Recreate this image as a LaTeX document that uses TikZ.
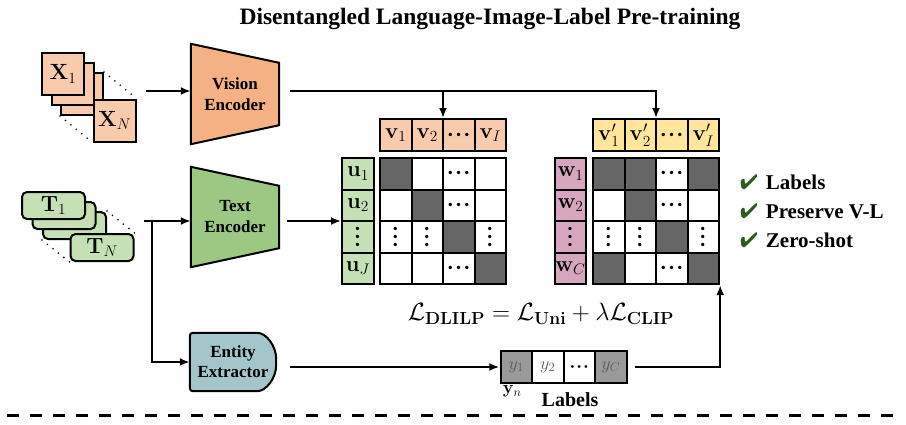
\RequirePackage{fix-cm}
\documentclass[tikz,border=0pt]{standalone}
\usepackage[no-math]{fontspec}
\setmainfont{Liberation Serif}
\usepackage{amsmath,amssymb,bm}
\usepackage{pifont}
\usepackage{tikz}
\usetikzlibrary{arrows.meta, positioning, calc, matrix, backgrounds}

\definecolor{visfill}{HTML}{F4B183}
\definecolor{vislight}{HTML}{F8CBAD}
\definecolor{txtfill}{HTML}{9DC883}
\definecolor{txtlight}{HTML}{C5E0B4}
\definecolor{vprime}{HTML}{FFE699}
\definecolor{wfill}{HTML}{D5A6BD}
\definecolor{entfill}{HTML}{A4C6CB}
\definecolor{darkcell}{HTML}{666666}
\definecolor{labgray}{HTML}{9A9A9A}
\definecolor{checkgreen}{HTML}{2E5A1C}

\newcommand{\hdts}{\boldsymbol{\mathord{\cdot}\mkern1mu\mathord{\cdot}\mkern1mu\mathord{\cdot}}}
\newcommand{\vdts}{\rotatebox{90}{$\hdts$}}

\tikzset{
  arr/.style={-{Latex[length=10pt,width=8pt]}, line width=2pt},
  wire/.style={line width=2pt},
  cell/.style={draw, line width=2pt, minimum size=31.5pt, inner sep=0pt, anchor=center, font=\fontsize{22}{24}\selectfont},
  dcell/.style={fill=darkcell},
  grid/.style={matrix of math nodes, nodes={cell}, nodes in empty cells, column sep=-2pt, row sep=-2pt, inner sep=0pt},
  imgsq/.style={draw, line width=2pt, fill=vislight, minimum size=42pt, inner sep=0pt, font=\fontsize{22}{24}\selectfont},
  txtbox/.style={draw, line width=2pt, fill=txtlight, rounded corners=5pt, minimum width=63pt, minimum height=27pt, inner sep=0pt, font=\fontsize{22}{24}\selectfont},
  stackdots/.style={line width=1.8pt, line cap=round, dash pattern=on 0pt off 7pt},
  blocktext/.style={align=center, inner sep=0pt, font=\bfseries\fontsize{17}{21}\selectfont},
  chkitem/.style={anchor=base west, inner sep=0pt, font=\bfseries\fontsize{21}{24}\selectfont},
}

\begin{document}
\begin{tikzpicture}[x=1pt, y=-1pt]
  \useasboundingbox (0,0) rectangle (906,424);

  \node[font=\bfseries\fontsize{23.5}{26}\selectfont] (title) at (490,19) {Disentangled Language-Image-Label Pre-training};

  % image stack
  \foreach \i/\px/\py in {3/82/94, 2/72.5/84}
    \node[imgsq] (x\i) at (\px,\py) {};
  \node[imgsq] (x1) at (63,74) {$\mathbf{X}_1$};
  \node[imgsq] (xN) at (114.5,120.5) {$\mathbf{X}_N$};
  \draw[stackdots] (x3.north east) -- (xN.north east);
  \draw[stackdots] (x3.south west) -- (xN.south west);

  % text stack
  \foreach \i/\px/\py in {3/74.5/225.5, 2/64/215.5}
    \node[txtbox] (t\i) at (\px,\py) {};
  \node[txtbox] (t1) at (53.5,205.5) {$\mathbf{T}_1$};
  \node[txtbox] (tN) at (102,247.5) {$\mathbf{T}_N$};
  \draw[stackdots] (t3.north east) -- (tN.north east);
  \draw[stackdots] (t3.south west) -- (tN.south west);

  % encoders and extractor
  \node[blocktext, minimum width=88pt, minimum height=100pt] (venc) at (235,94) {Vision\\Encoder};
  \node[blocktext, minimum width=88pt, minimum height=100pt] (tenc) at (235,217) {Text\\Encoder};
  \node[blocktext, minimum width=86pt, minimum height=58pt, font=\bfseries\fontsize{17}{20}\selectfont] (ent) at (233,362) {Entity\\Extractor};
  \begin{scope}[on background layer]
    \foreach \e/\col in {venc/visfill, tenc/txtfill}
      \draw[wire, fill=\col] (\e.north west) -- ($(\e.north east)+(0,19)$) -- ($(\e.south east)+(0,-19)$) -- (\e.south west) -- cycle;
    \draw[wire, fill=entfill, rounded corners=3pt] (ent.south west) -- (ent.north west) -- ($(ent.north east)+(-22,0)$)
      .. controls ($(ent.north east)+(-10,0)$) and ($(ent.east)+(0,-16)$) .. (ent.east)
      .. controls ($(ent.east)+(0,16)$) and ($(ent.south east)+(-10,0)$) .. ($(ent.south east)+(-22,0)$) -- cycle;
  \end{scope}

  % embeddings and similarity grids
  \matrix[grid, nodes={fill=vislight}] (vrow) at (443,135) {\mathbf{v}_1 & \mathbf{v}_2 & \hdts & \mathbf{v}_I \\};
  \matrix[grid, nodes={fill=txtlight}] (ucol) at (358,221) {\mathbf{u}_1 \\ \mathbf{u}_2 \\ \vdts \\ \mathbf{u}_J \\};
  \matrix[grid] (sim1) at (443,221) {
    |[dcell]| & & \hdts & \\
    & |[dcell]| & \hdts & \\
    \vdts & \vdts & |[dcell]| & \vdts \\
    & & \hdts & |[dcell]| \\
  };
  \matrix[grid, nodes={fill=vprime}] (vprow) at (656,135) {\mathbf{v}'_1 & \mathbf{v}'_2 & \hdts & \mathbf{v}'_I \\};
  \matrix[grid, nodes={fill=wfill}] (wcol) at (570.5,221) {\mathbf{w}_1 \\ \mathbf{w}_2 \\ \vdts \\ \mathbf{w}_C \\};
  \matrix[grid] (sim2) at (656,221) {
    |[dcell]| & |[dcell]| & \hdts & |[dcell]| \\
    & |[dcell]| & \hdts & \\
    \vdts & \vdts & |[dcell]| & \vdts \\
    |[dcell]| & & \hdts & |[dcell]| \\
  };
  \matrix[grid, nodes={font=\fontsize{18}{20}\selectfont, text=black!65}] (labrow) at (563.5,367)
    {|[fill=labgray]| y_1 & y_2 & |[text=black]| \hdts & |[fill=labgray]| y_C \\};
  \node[below=2pt of labrow-1-1, xshift=-4pt, inner sep=0pt, font=\fontsize{18}{20}\selectfont] (yn) {$\mathbf{y}_n$};
  \node[inner sep=0pt, font=\bfseries\fontsize{20}{22}\selectfont] (lablbl) at (570,400) {Labels};

  \node[font=\fontsize{25}{27}\selectfont] (loss) at (541,314)
    {$\mathcal{L}_{\mathbf{DLILP}} = \mathcal{L}_{\mathbf{Uni}} + \lambda\mathcal{L}_{\mathbf{CLIP}}$};

  % connectors
  \coordinate (ximg) at (146,91);
  \coordinate (vout) at (290,91);
  \coordinate (txt) at (144,221);
  \coordinate (split) at (152,221);
  \coordinate (tout) at (287,221);
  \draw[arr] (ximg) -- (ximg -| venc.west);
  \draw[arr] (vout) -| (vrow.north);
  \draw[arr] (vout) -| (vprow.north);
  \draw[arr] (txt) -- (txt -| tenc.west);
  \draw[arr] (split) |- (ent.west);
  \draw[arr] (tout) -- (tout -| ucol.west);
  \draw[arr, shorten <=14pt] (labrow.west -| ent.east) -- (labrow.west);
  \draw[arr, shorten <=7pt] (labrow.east) -| (sim2.south east);

  % benefits
  \node[chkitem] (chk1) at (740,189) {\textcolor{checkgreen}{\ding{52}}\hspace{8pt}Labels};
  \node[chkitem] (chk2) at (740,218) {\textcolor{checkgreen}{\ding{52}}\hspace{8pt}Preserve V-L};
  \node[chkitem] (chk3) at (740,247) {\textcolor{checkgreen}{\ding{52}}\hspace{8pt}Zero-shot};

  \draw[line width=3pt, dash pattern=on 12pt off 11pt] (7,415) -- (902,415);
\end{tikzpicture}
\end{document}
